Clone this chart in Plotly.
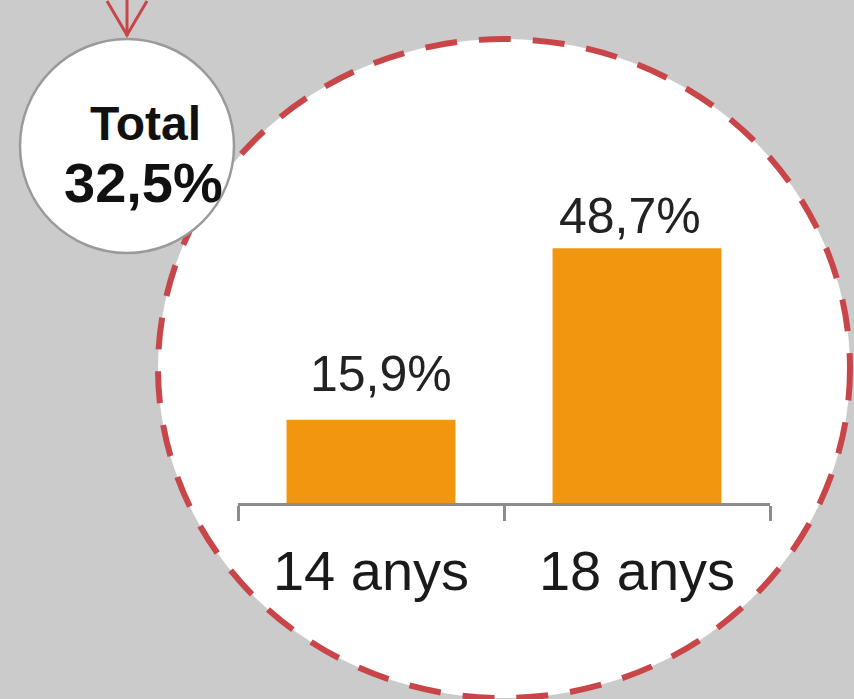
import plotly.graph_objects as go

# ---- data ----
categories = ["14 anys", "18 anys"]
values = [15.9, 48.7]
value_labels = ["15,9%", "48,7%"]
total_label = "Total"
total_value_label = "32,5%"

# ---- style constants ----
W, H = 854, 699
BG = "#CBCBCB"
ORANGE = "#F3960F"
RED = "#C8464A"
FONT = "Liberation Sans, Arial, sans-serif"
label_yshifts = [16, 2]
label_xshifts = [10, -7]


def px(x):
    return x / W


def py(y):
    return 1 - y / H


fig = go.Figure()
fig.add_trace(go.Bar(
    x=categories,
    y=values,
    marker=dict(color=ORANGE, line=dict(width=0)),
    hoverinfo="skip",
))

# big dashed ellipse (pixel geometry)
ex0, ex1, ey0, ey1 = 158, 850, 39, 698
small_cx, small_cy, small_r = 127, 146, 107

shapes = [
    dict(type="circle", xref="paper", yref="paper", layer="below",
         x0=px(ex0), x1=px(ex1), y0=py(ey1), y1=py(ey0),
         fillcolor="white", line=dict(color=RED, width=6, dash="32px,22px")),
    dict(type="circle", xref="paper", yref="paper", layer="below",
         x0=px(small_cx - small_r), x1=px(small_cx + small_r),
         y0=py(small_cy + small_r), y1=py(small_cy - small_r),
         fillcolor="white", line=dict(color="#9A9A9A", width=2.5)),
    dict(type="line", xref="paper", yref="paper", layer="above",
         x0=px(small_cx), x1=px(small_cx), y0=py(-5), y1=py(small_cy - small_r - 3),
         line=dict(color=RED, width=3)),
    dict(type="path", xref="paper", yref="paper", layer="above",
         path=f"M{px(small_cx - 20)},{py(1)} L{px(small_cx)},{py(small_cy - small_r - 4)} L{px(small_cx + 20)},{py(1)}",
         line=dict(color=RED, width=3)),
]

annotations = [
    dict(xref="paper", yref="paper", x=px(145), y=py(123), text=f"<b>{total_label}</b>",
         showarrow=False, xanchor="center", yanchor="middle",
         font=dict(family=FONT, size=48, color="#111111")),
    dict(xref="paper", yref="paper", x=px(143), y=py(182),
         text=f"<b>{total_value_label}</b>",
         showarrow=False, xanchor="center", yanchor="middle",
         font=dict(family=FONT, size=56, color="#111111")),
]
for cat, val, lab, ys, xs in zip(categories, values, value_labels, label_yshifts, label_xshifts):
    annotations.append(dict(
        xref="x", yref="y", x=cat, y=val, text=lab, showarrow=False,
        xanchor="center", yanchor="bottom", yshift=ys, xshift=xs,
        font=dict(family=FONT, size=50, color="#222222"),
    ))

fig.update_layout(
    width=W, height=H,
    margin=dict(l=0, r=0, t=0, b=0),
    paper_bgcolor=BG,
    plot_bgcolor="rgba(0,0,0,0)",
    showlegend=False,
    bargap=0.365,
    shapes=shapes,
    annotations=annotations,
    xaxis=dict(
        domain=[px(238), px(770)],
        showline=True, linecolor="#8C8C8C", linewidth=3,
        ticks="outside", tickson="boundaries", ticklen=15, tickwidth=3,
        tickcolor="#8C8C8C",
        tickfont=dict(family=FONT, size=56, color="#1A1A1A"),
        ticklabelstandoff=17,
        showgrid=False, zeroline=False, fixedrange=True,
    ),
    yaxis=dict(
        domain=[py(503), py(189)],
        range=[0, 60],
        visible=False, showgrid=False, zeroline=False, fixedrange=True,
    ),
)

fig.write_html(
    "out.html",
    config={"displayModeBar": False, "staticPlot": True},
    post_script="document.body.style.margin='0';document.body.style.overflow='hidden';",
)
